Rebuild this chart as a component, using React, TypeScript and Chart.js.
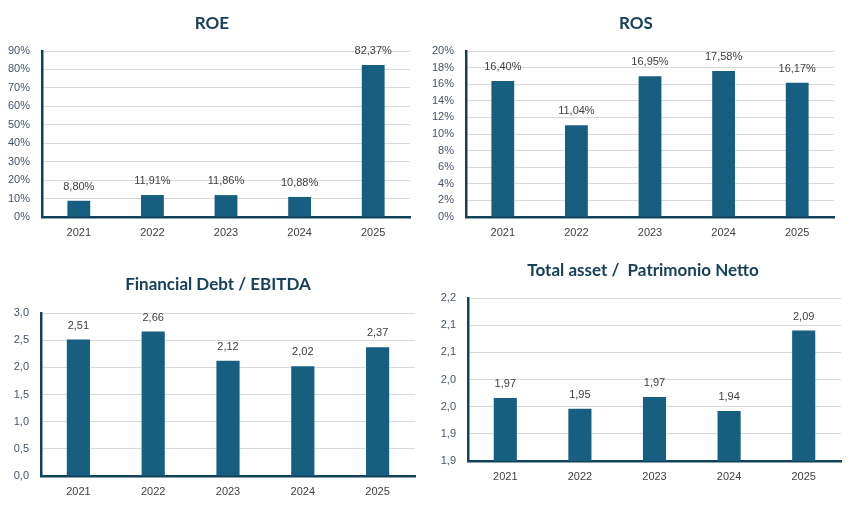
import { useEffect, useRef } from "react"
import { Chart, registerables } from "chart.js"

Chart.register(...registerables)

// data
const years = ["2021", "2022", "2023", "2024", "2025"]
const roeValues = [8.8, 11.91, 11.86, 10.88, 82.37]
const rosValues = [16.4, 11.04, 16.95, 17.58, 16.17]
const debtEbitdaValues = [2.51, 2.66, 2.12, 2.02, 2.37]
const assetEquityValues = [1.966, 1.946, 1.968, 1.942, 2.09]

const BAR = "#165f80"
const AXIS = "#12425a"
const TITLE = "#17405a"
const GRID = "#d9d9d9"
const FONT = "'Liberation Sans', Arial, sans-serif"

const comma = (v: number, d: number) => v.toFixed(d).replace(".", ",")

interface Box {
  left: number
  top: number
  width: number
  height: number
  areaLeft: number
  areaTop: number
  areaRight: number
  areaBottom: number
  titleX: number
  titleY: number
}

interface PanelProps {
  title: string
  values: number[]
  min: number
  max: number
  step: number
  tick: (v: number) => string
  label: (v: number) => string
  box: Box
}

function Panel({ title, values, min, max, step, tick, label, box }: PanelProps) {
  const ref = useRef<HTMLCanvasElement>(null)

  useEffect(() => {
    if (!ref.current) return

    // the titles are not centred on anything in particular, so draw them where they sit
    const titleText = {
      id: "titleText",
      afterDraw(chart: Chart) {
        const ctx = chart.ctx
        ctx.save()
        ctx.font = `bold 17px Lato, sans-serif`
        ctx.fillStyle = TITLE
        ctx.textAlign = "center"
        ctx.textBaseline = "middle"
        ctx.fillText(title, box.titleX, box.titleY)
        ctx.restore()
      },
    }

    const barLabels = {
      id: "barLabels",
      afterDatasetsDraw(chart: Chart) {
        const ctx = chart.ctx
        ctx.save()
        ctx.font = `11px ${FONT}`
        ctx.fillStyle = "#404040"
        ctx.textAlign = "center"
        ctx.textBaseline = "middle"
        chart.getDatasetMeta(0).data.forEach((el: any, i: number) => {
          ctx.fillText(label(values[i]), el.x, el.y - 14)
        })
        ctx.restore()
      },
    }

    const chart = new Chart(ref.current, {
      type: "bar",
      data: {
        labels: years,
        datasets: [
          {
            data: values,
            backgroundColor: BAR,
            categoryPercentage: 1,
            barPercentage: 0.31,
          },
        ],
      },
      options: {
        animation: false,
        responsive: false,
        devicePixelRatio: 1,
        layout: { padding: { left: 0, right: box.width - box.areaRight, top: box.areaTop, bottom: 0 } },
        plugins: {
          legend: { display: false },
          tooltip: { enabled: false },
          title: { display: false },
        },
        scales: {
          x: {
            grid: { display: false, drawTicks: false },
            border: { display: true, color: AXIS, width: 2.5 },
            ticks: { color: "#404040", font: { family: FONT, size: 11 }, padding: 9 },
            afterFit: (s: any) => {
              s.height = box.height - box.areaBottom
            },
          },
          y: {
            min,
            max,
            grid: { color: GRID, drawTicks: false },
            border: { display: true, color: AXIS, width: 2.5 },
            ticks: {
              stepSize: step,
              color: "#44546a",
              font: { family: FONT, size: 11 },
              padding: 12,
              callback: (v: any) => tick(Number(v)),
            },
            afterFit: (s: any) => {
              s.width = box.areaLeft
            },
          },
        },
      },
      plugins: [barLabels, titleText],
    })
    return () => chart.destroy()
  }, [title, values, min, max, step, tick, label, box])

  return (
    <div style={{ position: "absolute", left: box.left, top: box.top, width: box.width, height: box.height }}>
      <canvas ref={ref} width={box.width} height={box.height} />
    </div>
  )
}

export default function App() {
  return (
    <div style={{ position: "fixed", left: 0, top: 0, width: 857, height: 520, background: "#fff" }}>
      <Panel
        title="ROE"
        values={roeValues}
        min={0}
        max={90}
        step={10}
        tick={(v) => `${Math.round(v)}%`}
        label={(v) => `${comma(v, 2)}%`}
        box={{ left: 0, top: 0, width: 420, height: 250, areaLeft: 42, areaTop: 51, areaRight: 410, areaBottom: 217, titleX: 212, titleY: 24 }}
      />
      <Panel
        title="ROS"
        values={rosValues}
        min={0}
        max={20}
        step={2}
        tick={(v) => `${Math.round(v)}%`}
        label={(v) => `${comma(v, 2)}%`}
        box={{ left: 420, top: 0, width: 437, height: 250, areaLeft: 46, areaTop: 51, areaRight: 414, areaBottom: 217, titleX: 216, titleY: 24 }}
      />
      <Panel
        title="Financial Debt / EBITDA"
        values={debtEbitdaValues}
        min={0}
        max={3}
        step={0.5}
        tick={(v) => comma(v, 1)}
        label={(v) => comma(v, 2)}
        box={{ left: 0, top: 260, width: 420, height: 260, areaLeft: 41, areaTop: 53, areaRight: 415, areaBottom: 216, titleX: 218, titleY: 25 }}
      />
      <Panel
        title="Total asset /  Patrimonio Netto"
        values={assetEquityValues}
        min={1.85}
        max={2.15}
        step={0.05}
        tick={(v) => comma(Math.round(v * 10) / 10, 1)}
        label={(v) => comma(v, 2)}
        box={{ left: 420, top: 260, width: 437, height: 260, areaLeft: 48, areaTop: 38, areaRight: 421, areaBottom: 201, titleX: 223, titleY: 11 }}
      />
    </div>
  )
}
